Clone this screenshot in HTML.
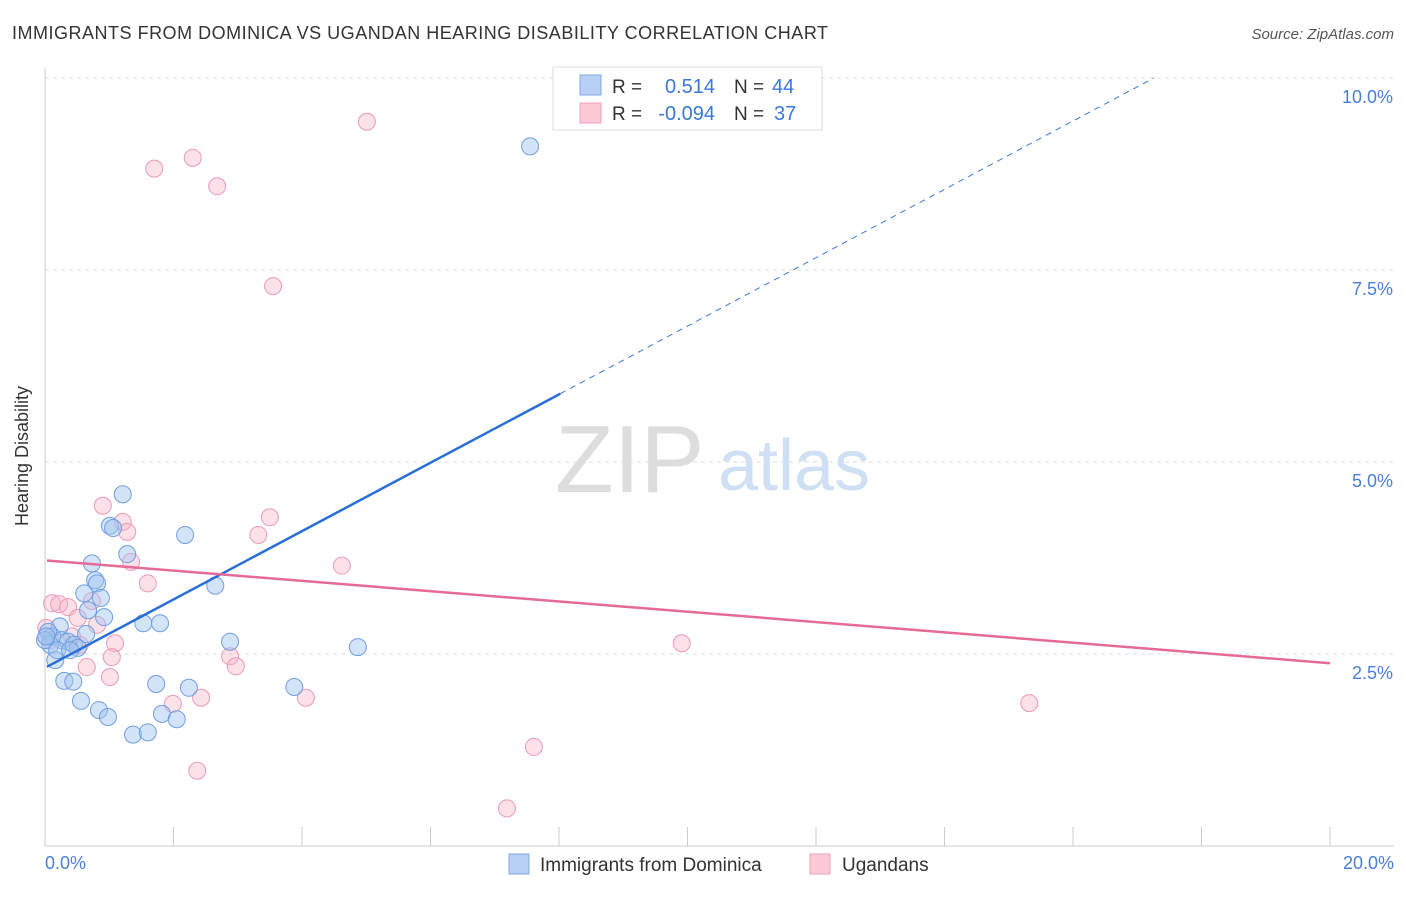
<!DOCTYPE html>
<html><head><meta charset="utf-8"><style>
body{margin:0;background:#fff;font-family:"Liberation Sans",sans-serif}
svg text{font-family:"Liberation Sans",sans-serif}
</style></head><body>
<svg width="1406" height="892">
<text x="12" y="39" font-size="18" textLength="816" fill="#333">IMMIGRANTS FROM DOMINICA VS UGANDAN HEARING DISABILITY CORRELATION CHART</text>
<text x="1394" y="39" font-size="15" fill="#555" font-style="italic" text-anchor="end">Source: ZipAtlas.com</text>
<g id="grid"></g>
<text x="555" y="492" font-size="96" fill="#ddd" font-family="Liberation Serif,serif">ZIP</text>
<text x="718" y="490" font-size="72" fill="#cfe0f5">atlas</text>
<line x1="45" y1="68" x2="45" y2="846" stroke="#ccc"/>
<line x1="45" y1="846" x2="1394" y2="846" stroke="#ccc"/>
<text x="28" y="456" font-size="18" fill="#333" text-anchor="middle" transform="rotate(-90 28 456)">Hearing Disability</text>
<text x="45" y="869" font-size="18" fill="#4a7fd4">0.0%</text>
<text x="1394" y="869" font-size="18" fill="#4a7fd4" text-anchor="end">20.0%</text>
<g id="pts"></g>
<g id="trends"></g>
<g>
<rect x="553" y="67" width="269" height="63" fill="#fff" stroke="#ddd"/>
<rect x="580" y="75" width="21" height="20" fill="#b7d0f4" stroke="#7fa8e6"/>
<rect x="580" y="103" width="21" height="20" fill="#fbc9d8" stroke="#f0a0b8"/>
<text x="612" y="93" font-size="19" fill="#333">R =</text>
<text x="715" y="93" font-size="20" fill="#3a78d8" text-anchor="end">0.514</text>
<text x="734" y="93" font-size="19" fill="#333">N =</text>
<text x="772" y="93" font-size="20" fill="#3a78d8">44</text>
<text x="612" y="120" font-size="19" fill="#333">R =</text>
<text x="715" y="120" font-size="20" fill="#3a78d8" text-anchor="end">-0.094</text>
<text x="734" y="120" font-size="19" fill="#333">N =</text>
<text x="774" y="120" font-size="20" fill="#3a78d8">37</text>
</g>
<g>
<rect x="509" y="854" width="20" height="20" fill="#b7d0f4" stroke="#7fa8e6"/>
<text x="540" y="871" font-size="19" fill="#333">Immigrants from Dominica</text>
<rect x="810" y="854" width="20" height="20" fill="#fbc9d8" stroke="#f0a0b8"/>
<text x="842" y="871" font-size="19" fill="#333">Ugandans</text>
</g>
</svg>
<script>
const yTicks=[2.5,5.0,7.5,10.0];
const xTicks=[0,2,4,6,8,10,12,14,16,18,20];
const blueX=[7.55,1.21,1.01,1.06,2.18,1.28,0.73,0.78,0.81,0.61,0.87,0.67,0.92,2.65,1.53,1.79,0.23,0.64,0.11,0.26,0.36,0.45,0.51,2.88,4.87,0.16,0.30,0.44,1.73,2.24,3.88,0.56,0.84,0.98,1.82,2.05,1.37,1.60,0.05,0.08,0.0,0.19,0.39,0.02];
const blueY=[9.11,4.58,4.17,4.14,4.05,3.80,3.68,3.46,3.42,3.29,3.23,3.07,2.98,3.39,2.90,2.90,2.86,2.76,2.73,2.68,2.66,2.62,2.58,2.66,2.59,2.42,2.15,2.14,2.11,2.06,2.07,1.89,1.77,1.68,1.72,1.65,1.45,1.48,2.79,2.62,2.68,2.55,2.55,2.73];
const pinkX=[5.01,1.70,2.30,2.68,3.55,0.90,1.21,1.28,3.50,3.32,1.34,4.62,1.60,0.11,0.22,0.36,0.73,0.51,0.81,1.09,1.04,2.88,2.97,0.65,1.01,1.99,2.43,4.06,9.91,15.32,7.61,2.37,7.19,0.08,0.54,0.42,0.02];
const pinkY=[9.43,8.82,8.96,8.59,7.29,4.43,4.22,4.09,4.28,4.05,3.70,3.65,3.42,3.16,3.15,3.11,3.19,2.97,2.88,2.64,2.46,2.47,2.34,2.33,2.20,1.85,1.93,1.93,2.64,1.86,1.29,0.98,0.49,2.68,2.62,2.73,2.84];
const blueTrend=[2.32,0.445]; const blueSolidEnd=8.02;
const pinkTrend=[3.72,-0.067];
const X=v=>45+v*64.25, Y=v=>846-v*76.8;
const NS='http://www.w3.org/2000/svg';
function mk(t,a,p){const e=document.createElementNS(NS,t);for(const k in a)e.setAttribute(k,a[k]);p.appendChild(e);return e;}
const grid=document.getElementById('grid');
yTicks.forEach(v=>{
 const l=mk('line',{x1:45,x2:1394,y1:Y(v),y2:Y(v),stroke:'#ddd','stroke-dasharray':'4,4'},grid);
 
 
 const t=mk('text',{x:1393,y:Y(v)+25,'font-size':18,fill:'#4a7fd4','text-anchor':'end'},grid);
 t.textContent=v.toFixed(1)+'%';
 
 
});
xTicks.forEach(v=>{
 const l=mk('line',{x1:X(v),x2:X(v),y1:827,y2:846,stroke:'#ccc'},grid);
 
 
});
const pts=document.getElementById('pts');
pinkX.forEach((x,i)=>{
 const c=mk('circle',{cx:X(x),cy:Y(pinkY[i]),r:8.5,fill:'rgba(248,180,200,0.4)',stroke:'#eb9ab5','stroke-width':1},pts);
 
 
});
blueX.forEach((x,i)=>{
 const c=mk('circle',{cx:X(x),cy:Y(blueY[i]),r:8.5,fill:'rgba(160,196,240,0.45)',stroke:'#6f9fe0','stroke-width':1},pts);
 
 
});
const tr=document.getElementById('trends');
const bf=v=>blueTrend[0]+blueTrend[1]*v, pf=v=>pinkTrend[0]+pinkTrend[1]*v;
const x10=(10-blueTrend[0])/blueTrend[1];
let e=mk('line',{x1:X(blueSolidEnd),y1:Y(bf(blueSolidEnd)),x2:X(x10),y2:Y(10),stroke:'#3a78d8','stroke-width':1,'stroke-dasharray':'6,5'},tr);


e=mk('line',{x1:X(0.03),y1:Y(bf(0.03)),x2:X(blueSolidEnd),y2:Y(bf(blueSolidEnd)),stroke:'#2a6fd6','stroke-width':2.5},tr);


e=mk('line',{x1:X(0.03),y1:Y(pf(0.03)),x2:X(20),y2:Y(pf(20)),stroke:'#e56a98','stroke-width':2.5},tr);


</script>
</body></html>
